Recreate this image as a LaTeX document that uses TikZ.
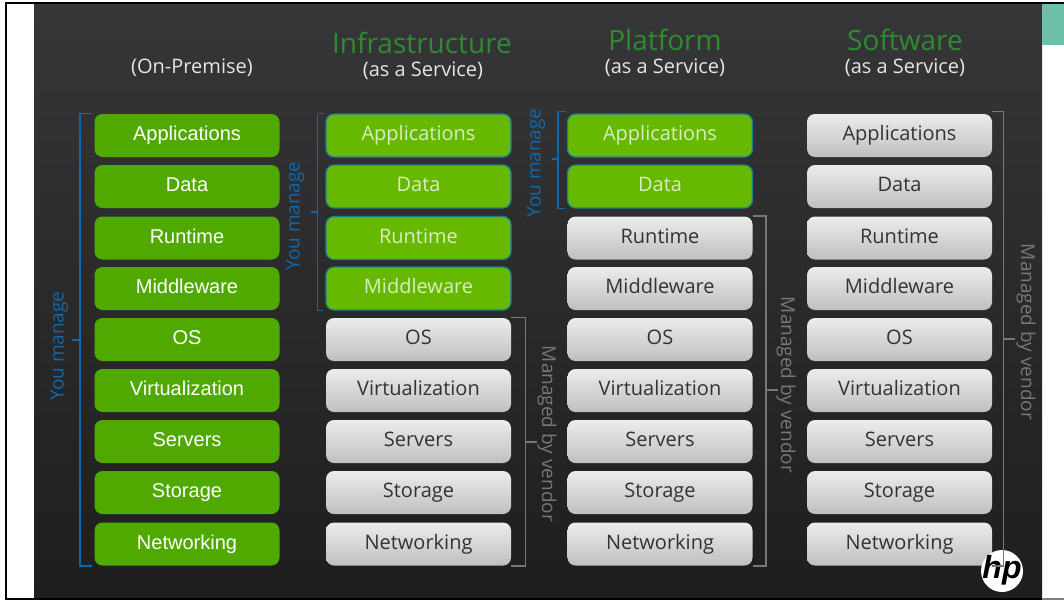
\documentclass[tikz,border=0pt]{standalone}
\usepackage{fontspec}
\setmainfont{Open Sans}
\newfontfamily\arialfont{Liberation Sans}
\definecolor{paneltop}{HTML}{363638}
\definecolor{panelbot}{HTML}{1E1E1E}
\definecolor{headgreen}{HTML}{2E8B32}
\definecolor{owngreen}{HTML}{4FA900}
\definecolor{ownlight}{HTML}{66B900}
\definecolor{ownedge}{HTML}{1B7F96}
\definecolor{youblue}{HTML}{0F68AE}
\definecolor{vendgrey}{HTML}{777777}
\definecolor{teal}{HTML}{6CBFA8}
\tikzset{
  stackbox/.style={rounded corners=4pt,minimum width=92.5pt,minimum height=21.5pt,inner sep=0pt,
    text height=7.5pt,text depth=2.5pt,font=\fontsize{10}{12}\selectfont},
  premisebox/.style={stackbox,fill=owngreen,text=white,font=\arialfont\fontsize{10}{12}\selectfont},
  ownbox/.style={stackbox,fill=ownlight,draw=ownedge,line width=0.6pt,text=ownlight!25!white},
  cloudbox/.style={stackbox,top color=gray!15,bottom color=gray!50,text=black!80},
  youline/.style={draw=youblue,line width=0.8pt},
  vendline/.style={draw=vendgrey,line width=0.8pt},
  youtext/.style={text=youblue,rotate=90,font=\fontsize{9.5}{12}\selectfont},
  vendtext/.style={text=vendgrey,rotate=-90,font=\fontsize{9.5}{12}\selectfont},
  headtext/.style={text=headgreen,font=\fontsize{14}{16}\selectfont},
  subtext/.style={text=gray!20,font=\fontsize{10}{12}\selectfont}
}
\begin{document}
\begin{tikzpicture}[x=0.5pt,y=-0.5pt]
\useasboundingbox (0,0) rectangle (1064,600);

%panel behind everything
\fill[white] (0,0) rectangle (1064,600);
\shade[top color=paneltop,bottom color=panelbot] (34,4) rectangle (1042,598);
\fill[teal] (1042,4) rectangle (1064,45);
\fill[black] (5,2) rectangle (1064,4);
\fill[black] (5,2) rectangle (7,600);
\fill[black] (5,598) rectangle (1042,600);
\fill[gray] (1042,598) rectangle (1064,600);

%column headings
\node[subtext] (onprem) at (192,68) {(On-Premise)};
\node[headtext] (iaas) at (422,43) {Infrastructure};
\node[subtext] (iaassub) at (423,71) {(as a Service)};
\node[headtext] (paas) at (665,40) {Platform};
\node[subtext] (paassub) at (665,68) {(as a Service)};
\node[headtext] (saas) at (905,40) {Software};
\node[subtext] (saassub) at (905,68) {(as a Service)};

%the four stacks
\foreach \n/\y/\t in {1/135.5/Applications,2/186.5/Data,3/238/Runtime,4/288.5/Middleware,
    5/339.5/O\/S,6/390.5/Virtualization,7/441.5/Servers,8/492.5/Storage,9/544/Networking}{
  \node[premisebox] (a\n) at (187,\y) {\t};
  \foreach \col/\x/\owned in {b/418.5/4,c/660/2,d/899.5/0}{
    \ifnum\n>\owned \def\sty{cloudbox}\else \def\sty{ownbox}\fi
    \node[\sty] (\col\n) at (\x,\y) {\t};
  }
}

%you manage brackets
\draw[youline] (a1.north west) ++(-2,0) -- ++(-12,0) coordinate (ya1) |- ([xshift=-1pt]a9.south west);
\coordinate (ya) at (81,340);
\coordinate (yat) at (72,340);
\draw[youline] (ya) -- (yat);
\node[youtext] (youa) at (59,346) {You manage};

\draw[youline] (b1.north west) ++(-1,0) -- ++(-7,0) |- ([xshift=-1pt]b4.south west);
\coordinate (yb) at (318,212);
\coordinate (ybt) at (311,212);
\draw[youline] (yb) -- (ybt);
\node[youtext] (youb) at (295,216) {You manage};

\draw[youline] (c1.north west) ++(-1,-2) -- ++(-8,0) |- ([xshift=-1pt]c2.south west);
\coordinate (yc) at (558,159);
\coordinate (yct) at (552,159);
\draw[youline] (yc) -- (yct);
\node[youtext] (youc) at (536,163) {You manage};

%managed by vendor brackets
\draw[vendline] (b5.north east) -- ++(14,0) |- (b9.south east);
\coordinate (vb) at (525,442);
\coordinate (vbt) at (537,442);
\draw[vendline] (vb) -- (vbt);
\node[vendtext] (vendb) at (547,434) {Managed by vendor};

\draw[vendline] (c3.north east) -- ++(13,0) |- (c9.south east);
\coordinate (vc) at (765,390);
\coordinate (vct) at (778,390);
\draw[vendline] (vc) -- (vct);
\node[vendtext] (vendc) at (786,385) {Managed by vendor};

%logo goes under the last bracket
\node[circle,fill=white,minimum size=21pt,inner sep=0pt] (logo) at (1002,571) {};
\node[text=black,font=\arialfont\bfseries\itshape\fontsize{16}{16}\selectfont,inner sep=0pt] (logotext) at (1002,570) {hp};

\draw[vendline] (d1.north east) ++(0,-2) -- ++(11,0) |- (d9.south east);
\coordinate (vd) at (1003,339);
\coordinate (vdt) at (1015,339);
\draw[vendline] (vd) -- (vdt);
\node[vendtext] (vendd) at (1026,332) {Managed by vendor};
\end{tikzpicture}
\end{document}
